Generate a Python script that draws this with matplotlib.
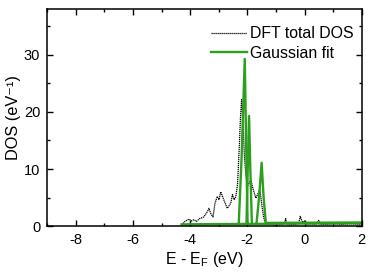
import matplotlib
matplotlib.use("Agg")
import matplotlib.pyplot as plt
from matplotlib.ticker import MultipleLocator

plt.rcParams["font.family"] = ["Liberation Sans", "DejaVu Sans"]
plt.rcParams["mathtext.fontset"] = "custom"
plt.rcParams["mathtext.rm"] = "Liberation Sans"
plt.rcParams["axes.unicode_minus"] = False

# DFT total DOS
dft_e = [-4.30, -4.16, -4.04, -3.95, -3.87, -3.78, -3.67, -3.52, -3.40, -3.34,
         -3.28, -3.20, -3.13, -3.05, -2.99, -2.93, -2.87, -2.75, -2.70, -2.58,
         -2.52, -2.46, -2.40, -2.34, -2.28, -2.24, -2.20, -2.15, -2.10, -2.05,
         -2.00, -1.94, -1.88, -1.80, -1.70, -1.62, -1.56, -1.50, -1.43, -1.35,
         -1.20, -1.00, -0.80, -0.70, -0.66, -0.62, -0.50, -0.30, -0.20, -0.15,
         -0.10, -0.05, 0.00, 0.05, 0.20, 0.40, 0.50, 0.55, 0.80, 1.00,
         1.30, 1.60, 2.00]
dft_dos = [0.2, 0.9, 1.2, 0.9, 1.1, 0.8, 1.3, 1.6, 2.5, 3.1,
           2.2, 1.6, 4.0, 5.2, 4.6, 6.0, 5.2, 3.7, 3.1, 4.0,
           5.5, 4.6, 5.2, 7.5, 14.0, 19.0, 22.2, 18.0, 12.0, 9.0,
           7.0, 7.5, 8.1, 6.5, 4.9, 5.8, 6.4, 4.0, 1.5, 0.3,
           0.3, 0.2, 0.3, 0.5, 1.3, 0.4, 0.2, 0.3, 0.5, 1.7,
           1.0, 0.6, 0.9, 0.3, 0.4, 0.3, 1.0, 0.3, 0.3, 0.4,
           0.3, 0.4, 0.3]

# Gaussian fit components
base_e = [-4.30, 2.00]
base_dos = [0.30, 0.50]
peak1_e = [-2.30, -2.20, -2.09, -2.04, -1.99]
peak1_dos = [0.4, 12.0, 29.3, 14.0, 0.4]
peak2_e = [-2.03, -1.99, -1.94, -1.89, -1.84]
peak2_dos = [0.4, 9.0, 19.3, 9.0, 0.4]
peak3_e = [-1.68, -1.59, -1.50, -1.43, -1.35]
peak3_dos = [0.4, 5.0, 11.1, 5.0, 0.4]
tail_e = [-1.35, 2.00]
tail_dos = [0.55, 0.62]

green = "#2ca01c"

fig = plt.figure(figsize=(3.71, 2.73), dpi=100)
ax = fig.add_axes([0.127, 0.172, 0.848, 0.794])

ax.plot(dft_e, dft_dos, color="black", lw=0.9, ls=(0, (1, 0.6)), label="DFT total DOS")
ax.plot(base_e, base_dos, color=green, lw=1.7, label="Gaussian fit")
for xs, ys in ((peak1_e, peak1_dos), (peak2_e, peak2_dos),
               (peak3_e, peak3_dos), (tail_e, tail_dos)):
    ax.plot(xs, ys, color=green, lw=1.7)

ax.set_xlim(-9, 2)
ax.set_ylim(0, 38)
ax.xaxis.set_major_locator(MultipleLocator(2))
ax.xaxis.set_minor_locator(MultipleLocator(1))
ax.yaxis.set_major_locator(MultipleLocator(10))
ax.yaxis.set_minor_locator(MultipleLocator(5))
ax.tick_params(which="both", direction="in", top=True, right=True,
               labelsize=10.5, width=1.0, pad=5)
ax.tick_params(which="major", length=4.5)
ax.tick_params(which="minor", length=2.5)
for sp in ax.spines.values():
    sp.set_linewidth(1.1)

ax.set_xlabel("E - E$_\\mathrm{F}$ (eV)", fontsize=11.5, labelpad=2)
ax.set_ylabel("DOS (eV\u207b\u00b9)", fontsize=11.8)
ax.yaxis.set_label_coords(-0.082, 0.5)

ax.legend(loc="upper right", bbox_to_anchor=(0.985, 0.937), frameon=False,
          fontsize=11.4, handlelength=2.3, handletextpad=0.2,
          labelspacing=0.3, borderaxespad=0.1, borderpad=0.1)

fig.savefig("out.png", dpi=100)
